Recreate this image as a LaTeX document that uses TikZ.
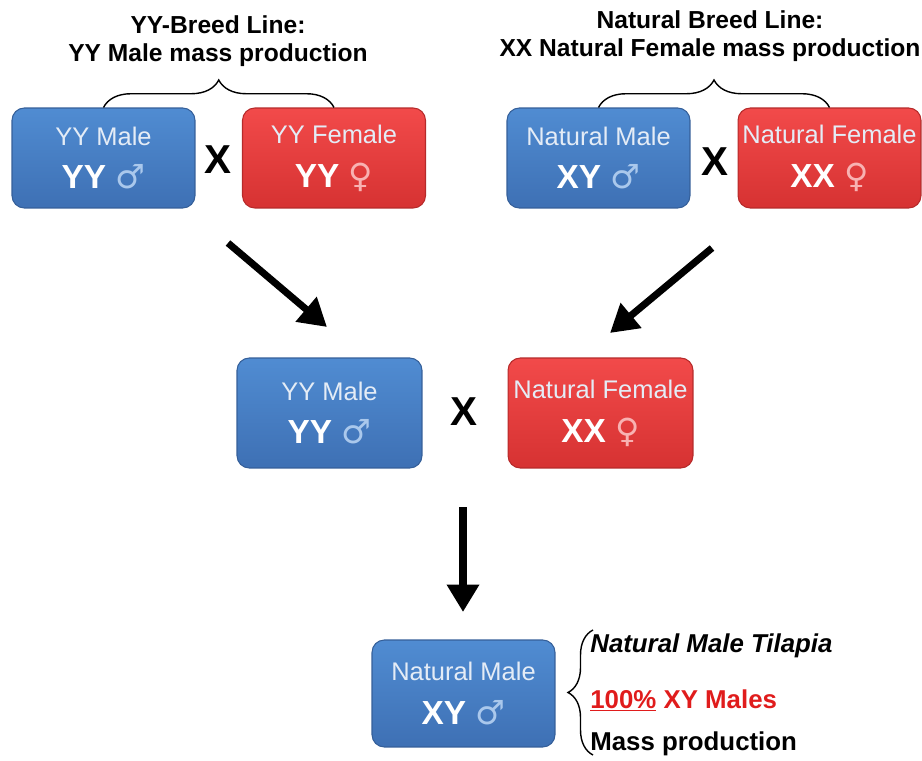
\documentclass[tikz,border=0pt]{standalone}
\usepackage{fontspec}
\setmainfont{Liberation Sans}
\newfontfamily\gendersym{DejaVu Sans}
\usetikzlibrary{arrows.meta,decorations.pathreplacing}

\definecolor{maleTop}{RGB}{80,140,210}
\definecolor{maleBot}{RGB}{62,112,180}
\definecolor{femTop}{RGB}{242,74,74}
\definecolor{femBot}{RGB}{214,50,50}
\definecolor{maleSym}{RGB}{170,200,236}
\definecolor{femSym}{RGB}{248,178,178}
\definecolor{labTxt}{RGB}{228,236,246}
\definecolor{pctRed}{RGB}{224,28,28}

\newcommand{\malesym}{{\gendersym\mdseries\color{maleSym}♂}}
\newcommand{\femsym}{{\gendersym\mdseries\color{femSym}♀}}
\newcommand{\sexbox}[3]{{\fontsize{14.5}{16}\selectfont\color{labTxt}#1}\\[10pt]
  {\fontsize{19}{21}\selectfont\bfseries #2\ #3}}

\begin{document}
\begin{tikzpicture}[x=0.02cm, y=-0.02cm,
    malebox/.style={rounded corners=7pt, top color=maleTop, bottom color=maleBot,
      draw=maleBot!85!black, line width=0.6pt, text=white, align=center,
      minimum width=3.66cm, minimum height=2cm, inner sep=1pt},
    fembox/.style={malebox, top color=femTop, bottom color=femBot, draw=femBot!85!black},
    cross/.style={font=\fontsize{23}{23}\selectfont\bfseries},
    title/.style={align=center, font=\fontsize{14}{16}\selectfont\bfseries},
    note/.style={anchor=base west, inner sep=0pt, font=\fontsize{14.7}{16}\selectfont\bfseries},
    bigarrow/.style={line width=4pt, -{Triangle[length=0.55cm, width=0.62cm]}},
    curly/.style={thick, decorate, decoration={brace, amplitude=#1}},
    curly/.default=0.55cm]
    \useasboundingbox (0,0) rectangle (922,760);

    % parent lines
    \node[title] (t1) at (218,41) {YY-Breed Line:\\YY Male mass production};
    \node[title] (t2) at (710,36) {Natural Breed Line:\\XX Natural Female mass production};

    \node[malebox] (ym1) at (103.5,158) {\sexbox{YY Male}{YY}{\malesym}};
    \node[fembox] (yf1) at (334,158) {\sexbox{YY Female}{YY}{\femsym}};
    \node[cross] (x1) at (218,160) {X};
    \node[malebox] (nm1) at (598.5,158) {\sexbox{Natural Male}{XY}{\malesym}};
    \node[fembox] (nf1) at (829.5,158) {\sexbox{Natural Female}{XX}{\femsym}};
    \node[cross] (x2) at (715,162) {X};

    \draw[curly] (ym1.north) -- (yf1.north);
    \draw[curly] (nm1.north) -- (nf1.north);

    % cross of the two lines
    \node[malebox, minimum width=3.7cm, minimum height=2.2cm] (ym2) at (329.5,413)
      {\sexbox{YY Male}{YY}{\malesym}};
    \node[fembox, minimum width=3.7cm, minimum height=2.2cm] (nf2) at (600.5,413)
      {\sexbox{Natural Female}{XX}{\femsym}};
    \node[cross] (x3) at (464,412) {X};

    \coordinate (a1s) at (228,243);
    \coordinate (a1e) at (327,327);
    \coordinate (a2s) at (712,248);
    \coordinate (a2e) at (610,333);
    \coordinate (a3s) at (463,507);
    \coordinate (a3e) at (463,612);
    \draw[bigarrow] (a1s) -- (a1e);
    \draw[bigarrow] (a2s) -- (a2e);
    \draw[bigarrow] (a3s) -- (a3e);

    % offspring
    \node[malebox, minimum height=2.14cm] (nm3) at (463.5,693.5)
      {\sexbox{Natural Male}{XY}{\malesym}};
    \coordinate (b1) at (593,755);
    \coordinate (b2) at (593,630);
    \draw[curly=0.5cm] (b1) -- (b2);

    \node[note] (n1) at (590,652) {\itshape Natural Male Tilapia};
    \node[note, text=pctRed] (n2) at (590,708) {\underline{100\%} XY Males};
    \node[note] (n3) at (590,750) {Mass production};
\end{tikzpicture}
\end{document}
